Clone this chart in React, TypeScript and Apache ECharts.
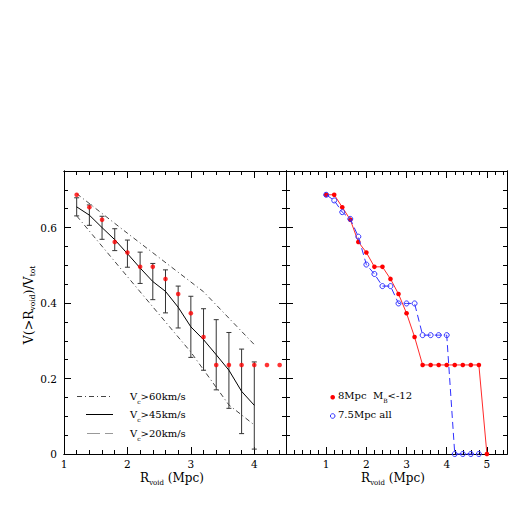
import React, { useEffect, useRef } from "react";
import * as echarts from "echarts";

const FONT = "DejaVu Serif";

// Left panel: mean curve with error bars (Vc>45km/s)
const meanX = [1.2, 1.4, 1.6, 1.8, 2.0, 2.2, 2.4, 2.6, 2.8, 3.0, 3.2, 3.4, 3.6, 3.8, 4.0];
const meanV = [0.655, 0.633, 0.6, 0.568, 0.531, 0.493, 0.457, 0.431, 0.389, 0.337, 0.303, 0.263, 0.222, 0.166, 0.129];
const errHigh = [0.679, 0.66, 0.63, 0.597, 0.567, 0.535, 0.505, 0.488, 0.445, 0.418, 0.385, 0.356, 0.322, 0.278, 0.244];
const errLow = [0.631, 0.606, 0.569, 0.539, 0.495, 0.452, 0.409, 0.374, 0.334, 0.256, 0.222, 0.17, 0.121, 0.054, 0.013];

// Left panel envelopes
const upperX = [1.2, 2.0, 3.2, 4.0];
const upperV = [0.69, 0.585, 0.43, 0.29];
const lowerX = [1.2, 2.0, 3.0, 3.6, 4.0];
const lowerV = [0.631, 0.47, 0.27, 0.13, 0.077];

// Right panel: 8Mpc MB<-12 (red) and 7.5Mpc all (blue)
const redX = [1.0, 1.2, 1.4, 1.6, 1.8, 2.0, 2.2, 2.4, 2.6, 2.8, 3.0, 3.2, 3.4, 3.6, 3.8, 4.0, 4.2, 4.4, 4.6, 4.8, 5.0];
const redV = [0.687, 0.687, 0.654, 0.621, 0.562, 0.534, 0.496, 0.496, 0.464, 0.424, 0.373, 0.31, 0.236, 0.236, 0.236, 0.236, 0.236, 0.236, 0.236, 0.236, 0];
const blueX = [1.0, 1.2, 1.4, 1.6, 1.8, 2.0, 2.2, 2.4, 2.6, 2.8, 3.0, 3.2, 3.4, 3.6, 3.8, 4.0, 4.2, 4.4, 4.6, 4.8];
const blueV = [0.687, 0.672, 0.641, 0.623, 0.576, 0.502, 0.477, 0.445, 0.445, 0.399, 0.399, 0.399, 0.315, 0.315, 0.315, 0.315, 0, 0, 0, 0];

// Left panel red points are the same 8Mpc sample, x = 1.2 .. 4.4
const leftDotStart = 1;
const leftDotEnd = 18;

const RED = "#ff0000";
const BLUE = "#3030ff";

const GRIDS = [
  { left: 64, top: 171, width: 222, height: 283 },
  { left: 286, top: 171, width: 221, height: 283 },
];

const pairs = (xs: number[], ys: number[]) => xs.map((x, i) => [x, ys[i]]);

function xAxisDef(grid: number, pos: string, min: number, max: number, interval: number, len: number, labelFn: ((v: number) => string) | null) {
  return {
    type: "value",
    gridIndex: grid,
    position: pos,
    min,
    max,
    interval,
    axisLine: { show: true, onZero: false, lineStyle: { color: "#000", width: 1 } },
    axisTick: { show: true, inside: true, length: len, lineStyle: { color: "#000", width: 1 } },
    axisLabel: labelFn
      ? { show: true, formatter: labelFn, fontFamily: FONT, fontSize: 10.5, color: "#000", margin: 4 }
      : { show: false },
    splitLine: { show: false },
  };
}

function yAxisDef(grid: number, pos: string, min: number, max: number, interval: number, len: number, labelFn: ((v: number) => string) | null) {
  return {
    type: "value",
    gridIndex: grid,
    position: pos,
    min,
    max,
    interval,
    axisLine: { show: true, onZero: false, lineStyle: { color: "#000", width: 1 } },
    axisTick: { show: true, inside: true, length: len, lineStyle: { color: "#000", width: 1 } },
    axisLabel: labelFn
      ? { show: true, formatter: labelFn, fontFamily: FONT, fontSize: 10.5, color: "#000", margin: 7 }
      : { show: false },
    splitLine: { show: false },
  };
}

const leftXLabel = (v: number) => (Math.abs(v - Math.round(v)) < 1e-6 ? String(Math.round(v)) : "");
const rightXLabel = (v: number) => {
  const r = Math.round(v);
  return Math.abs(v - r) < 1e-6 && r >= 1 && r <= 5 ? String(r) : "";
};
const yLabel = (v: number) => {
  const r = Math.round(v * 10) / 10;
  if (Math.abs(v - r) > 1e-6) return "";
  return r === 0 ? "0" : r.toFixed(1);
};

const richMain = (size: number, sub: number, color = "#000") => ({
  m: { fontFamily: FONT, fontSize: size, lineHeight: size + 5, color },
  s: { fontFamily: FONT, fontSize: sub, lineHeight: sub, verticalAlign: "bottom", color },
});

export default function App() {
  const ref = useRef<HTMLDivElement>(null);
  useEffect(() => {
    if (!ref.current) return;
    const chart = echarts.init(ref.current, null, { renderer: "svg" });
    const dashDot = [5, 3, 1, 3];
    const option: any = {
      animation: false,
      backgroundColor: "#fff",
      grid: GRIDS.map((g) => ({ ...g, containLabel: false })),
      xAxis: [
        xAxisDef(0, "bottom", 1, 4.5, 1, 7, leftXLabel),
        xAxisDef(0, "bottom", 1, 4.5, 0.2, 4, null),
        xAxisDef(0, "top", 1, 4.5, 1, 7, null),
        xAxisDef(0, "top", 1, 4.5, 0.2, 4, null),
        xAxisDef(1, "bottom", 0, 5.5, 1, 7, rightXLabel),
        xAxisDef(1, "bottom", 0, 5.5, 0.2, 4, null),
        xAxisDef(1, "top", 0, 5.5, 1, 7, null),
        xAxisDef(1, "top", 0, 5.5, 0.2, 4, null),
      ],
      yAxis: [
        yAxisDef(0, "left", 0, 0.75, 0.2, 7, yLabel),
        yAxisDef(0, "left", 0, 0.75, 0.05, 4, null),
        yAxisDef(0, "right", 0, 0.75, 0.2, 7, null),
        yAxisDef(0, "right", 0, 0.75, 0.05, 4, null),
        yAxisDef(1, "left", 0, 0.75, 0.2, 7, null),
        yAxisDef(1, "left", 0, 0.75, 0.05, 4, null),
        yAxisDef(1, "right", 0, 0.75, 0.2, 7, null),
        yAxisDef(1, "right", 0, 0.75, 0.05, 4, null),
      ],
      series: [
        {
          type: "custom",
          xAxisIndex: 0,
          yAxisIndex: 0,
          data: meanX.map((x, i) => [x, errLow[i], errHigh[i]]),
          encode: { x: 0, y: [1, 2] },
          z: 2,
          renderItem: (params: any, api: any) => {
            const x = api.value(0);
            const lo = api.coord([x, api.value(1)]);
            const hi = api.coord([x, api.value(2)]);
            const w = 2.5;
            const st = { stroke: "#333", lineWidth: 1 };
            return {
              type: "group",
              children: [
                { type: "line", shape: { x1: lo[0], y1: lo[1], x2: hi[0], y2: hi[1] }, style: st },
                { type: "line", shape: { x1: lo[0] - w, y1: lo[1], x2: lo[0] + w, y2: lo[1] }, style: st },
                { type: "line", shape: { x1: hi[0] - w, y1: hi[1], x2: hi[0] + w, y2: hi[1] }, style: st },
              ],
            };
          },
        },
        {
          type: "line",
          name: "Vc>45km/s",
          xAxisIndex: 0,
          yAxisIndex: 0,
          data: pairs(meanX, meanV),
          symbol: "none",
          lineStyle: { color: "#000", width: 1 },
          z: 3,
        },
        {
          type: "line",
          name: "Vc>60km/s",
          xAxisIndex: 0,
          yAxisIndex: 0,
          data: pairs(upperX, upperV),
          symbol: "none",
          lineStyle: { color: "#444", width: 1, type: dashDot },
          z: 3,
        },
        {
          type: "line",
          name: "Vc>20km/s",
          xAxisIndex: 0,
          yAxisIndex: 0,
          data: pairs(lowerX, lowerV),
          symbol: "none",
          lineStyle: { color: "#444", width: 1, type: dashDot },
          z: 3,
        },
        {
          type: "scatter",
          xAxisIndex: 0,
          yAxisIndex: 0,
          data: pairs(redX.slice(leftDotStart, leftDotEnd), redV.slice(leftDotStart, leftDotEnd)),
          symbol: "circle",
          symbolSize: 4.6,
          itemStyle: { color: RED },
          z: 5,
          clip: false,
        },
        {
          type: "line",
          name: "8Mpc MB<-12",
          xAxisIndex: 4,
          yAxisIndex: 4,
          data: pairs(redX, redV),
          symbol: "circle",
          symbolSize: 4.6,
          showAllSymbol: true,
          itemStyle: { color: RED },
          lineStyle: { color: "#ff2a2a", width: 1 },
          clip: false,
          z: 4,
        },
        {
          type: "line",
          name: "7.5Mpc all",
          xAxisIndex: 4,
          yAxisIndex: 4,
          data: pairs(blueX, blueV),
          symbol: "circle",
          symbolSize: 5,
          showAllSymbol: true,
          itemStyle: { color: "rgba(255,255,255,0)", borderColor: BLUE, borderWidth: 1 },
          lineStyle: { color: BLUE, width: 1, type: [7, 4] },
          clip: false,
          z: 5,
        },
      ],
      graphic: [
        {
          type: "text",
          x: 28,
          y: 305,
          rotation: Math.PI / 2,
          style: {
            text: "{m|V(>R}{s|void}{m|)/V}{s|tot}",
            rich: richMain(12.5, 7.5),
            align: "center",
            verticalAlign: "middle",
          },
        },
        {
          type: "text",
          x: 172,
          y: 478,
          style: { text: "{m|R}{s|void}{m| (Mpc)}", rich: richMain(12, 7), align: "center", verticalAlign: "middle" },
        },
        {
          type: "text",
          x: 393,
          y: 478,
          style: { text: "{m|R}{s|void}{m| (Mpc)}", rich: richMain(12, 7), align: "center", verticalAlign: "middle" },
        },
        // left legend
        { type: "line", shape: { x1: 77, y1: 396.5, x2: 113, y2: 396.5 }, style: { stroke: "#444", lineWidth: 1, lineDash: dashDot } },
        { type: "line", shape: { x1: 86, y1: 414.5, x2: 113, y2: 414.5 }, style: { stroke: "#000", lineWidth: 1 } },
        { type: "line", shape: { x1: 87, y1: 433.5, x2: 113, y2: 433.5 }, style: { stroke: "#999", lineWidth: 1, lineDash: [13, 5] } },
        {
          type: "text",
          x: 130,
          y: 396.5,
          style: { text: "{m|V}{s|c}{m|>60km/s}", rich: richMain(10, 6), align: "left", verticalAlign: "middle" },
        },
        {
          type: "text",
          x: 130,
          y: 414.5,
          style: { text: "{m|V}{s|c}{m|>45km/s}", rich: richMain(10, 6), align: "left", verticalAlign: "middle" },
        },
        {
          type: "text",
          x: 130,
          y: 433.5,
          style: { text: "{m|V}{s|c}{m|>20km/s}", rich: richMain(10, 6), align: "left", verticalAlign: "middle" },
        },
        // right legend
        { type: "circle", shape: { cx: 332.7, cy: 397.3, r: 2.3 }, style: { fill: RED } },
        { type: "circle", shape: { cx: 332.7, cy: 416, r: 2.3 }, style: { fill: "none", stroke: BLUE, lineWidth: 1 } },
        {
          type: "text",
          x: 338,
          y: 395.5,
          style: { text: "{m|8Mpc  M}{s|B}{m|<-12}", rich: richMain(10, 6, RED), align: "left", verticalAlign: "middle" },
        },
        {
          type: "text",
          x: 338,
          y: 414,
          style: { text: "{m|7.5Mpc all}", rich: richMain(10, 6, BLUE), align: "left", verticalAlign: "middle" },
        },
      ],
    };
    chart.setOption(option);
    return () => chart.dispose();
  }, []);
  return <div ref={ref} style={{ position: "fixed", left: 0, top: 0, width: 518, height: 518, background: "#fff" }} />;
}
